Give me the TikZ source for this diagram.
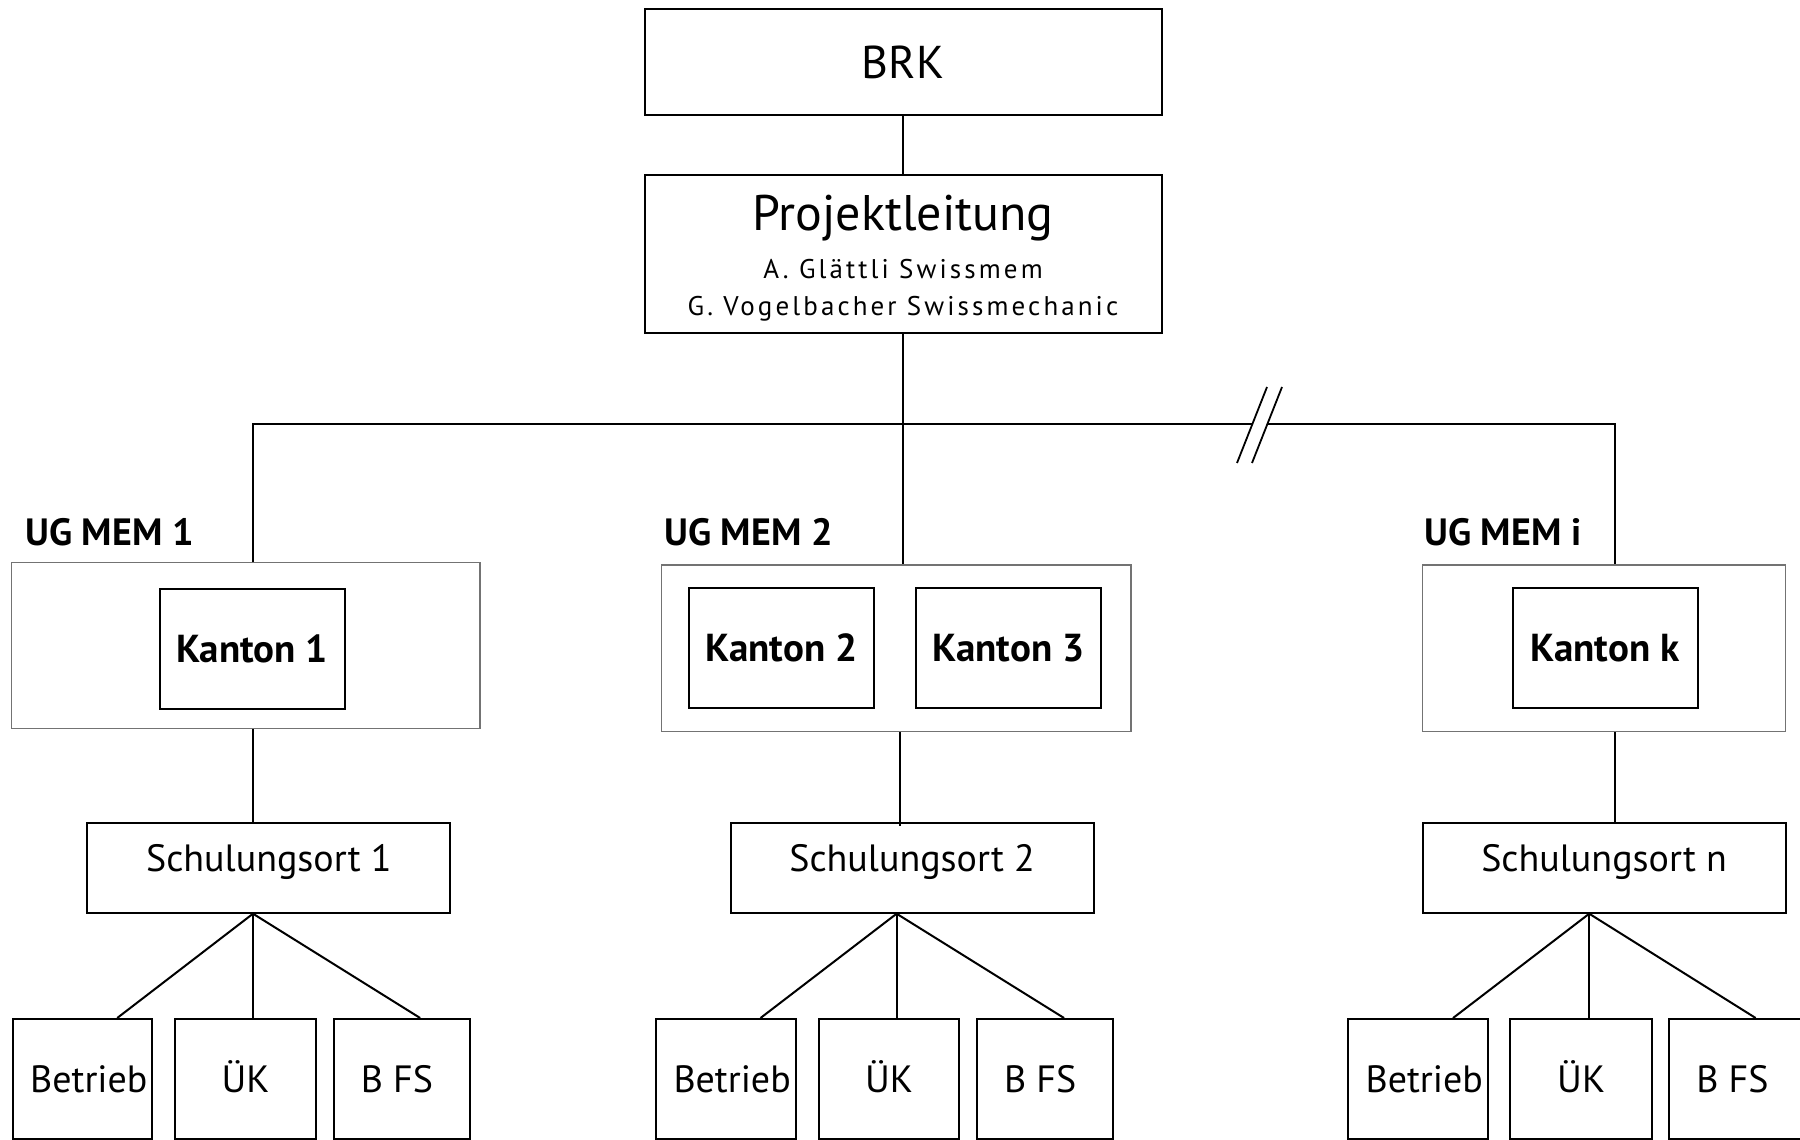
\documentclass[tikz,border=0pt]{standalone}
\usepackage{fontspec}
\setmainfont{PT Sans}
\usetikzlibrary{calc}
\tikzset{
  conn/.style={line width=2pt, black},
  bbox/.style={draw=black, line width=2pt, inner sep=0pt, text depth=0pt},
  gbox/.style={draw=black!55, line width=1.4pt, inner sep=0pt},
  kbox/.style={draw=black, line width=1.8pt, inner sep=0pt, minimum width=185pt, minimum height=120pt,
    font=\fontsize{39}{42}\selectfont\bfseries, text height=27pt, text depth=0pt},
  sbox/.style={draw=black, line width=2pt, inner sep=0pt, minimum width=363pt, minimum height=90pt,
    font=\fontsize{38}{40}\selectfont, text height=27pt, text depth=20pt},
  leaf/.style={draw=black, line width=2pt, inner sep=0pt, minimum height=120pt,
    font=\fontsize{38}{40}\selectfont, text height=26pt, text depth=0pt},
  uglabel/.style={anchor=base west, inner sep=0pt, font=\fontsize{38}{40}\selectfont\bfseries},
  names/.style={anchor=base, inner sep=0pt, font=\fontsize{27}{30}\selectfont\addfontfeatures{LetterSpace=11.5}},
}
\begin{document}
\begin{tikzpicture}[x=1pt,y=-1pt]
\useasboundingbox (0,0) rectangle (1800,1140);
\clip (0,0) rectangle (1800,1140);

% top
\node[bbox, minimum width=517pt, minimum height=106pt, font=\fontsize{46}{50}\selectfont, text height=32pt] (brk) at (903,62) {BRK};
\node[bbox, minimum width=517pt, minimum height=158pt] (pj) at (903,254) {};
\node[anchor=base, inner sep=0pt, font=\fontsize{50}{52}\selectfont] (pjt) at (903,230) {Projektleitung};
\node[names] (pja) at (903,278) {A. Glättli Swissmem};
\node[names] (pjg) at (903,315) {G. Vogelbacher Swissmechanic};

% UG boxes
\node[gbox, minimum width=468.5pt, minimum height=166pt] (ug1) at (245.75,645.7) {};
\node[gbox, minimum width=469.6pt, minimum height=166.3pt] (ug2) at (896,648.2) {};
\node[gbox, minimum width=362.8pt, minimum height=166.3pt] (ugi) at (1604.1,648.2) {};
\node[uglabel] (l1) at (25,545) {UG MEM 1};
\node[uglabel] (l2) at (664,545) {UG MEM 2};
\node[uglabel] (li) at (1424,545) {UG MEM i};

\node[kbox] (k1) at (252.2,648.7) {Kanton 1};
\node[kbox] (k2) at (781.4,647.7) {Kanton 2};
\node[kbox] (k3) at (1008.4,647.7) {Kanton 3};
\node[kbox] (kk) at (1605.1,647.7) {Kanton k};

% Schulungsorte
\node[sbox] (s1) at (268.9,867.7) {Schulungsort 1};
\node[sbox] (s2) at (912.1,867.7) {Schulungsort 2};
\node[sbox] (sn) at (1604.1,867.7) {Schulungsort n};

% leaves
\node[leaf, minimum width=139.7pt, text width=130pt, align=right] (b1) at (82.5,1079) {Betrieb};
\node[leaf, minimum width=140.8pt] (u1) at (245.7,1079) {ÜK};
\node[leaf, minimum width=136.3pt] (f1) at (401.9,1079) {\hspace*{-10pt}B FS};
\node[leaf, minimum width=139.7pt, text width=130pt, align=right] (b2) at (725.8,1079) {Betrieb};
\node[leaf, minimum width=140.9pt] (u2) at (889,1079) {ÜK};
\node[leaf, minimum width=136.2pt] (f2) at (1045.1,1079) {\hspace*{-10pt}B FS};
\node[leaf, minimum width=139.8pt, text width=130pt, align=right] (bn) at (1417.9,1079) {Betrieb};
\node[leaf, minimum width=141.6pt] (un) at (1581.2,1079) {ÜK};
\node[leaf, minimum width=136.2pt] (fn) at (1737.4,1079) {\hspace*{-10pt}B FS};

% helper coordinates
\coordinate (c1) at (253,424);
\coordinate (ci) at (1615,424);
\coordinate (bk1) at (1252,424);
\coordinate (bk2) at (1268,424);
\coordinate (d2) at (900.4,0);
\coordinate (fp1) at (253,0);
\coordinate (fp2) at (896.6,0);
\coordinate (fpn) at (1589.2,0);

% connectors top
\draw[conn] (brk.south) -- (pj.north);
\draw[conn] (pj.south) -- (pj.south |- ug2.north);
\draw[conn] (ug1.north -| c1) -- (c1) -- (bk1);
\draw[conn] (bk2) -- (ci) -- (ci |- ugi.north);
% break marks
\draw[line width=1.8pt] (1237,463) -- (1267,387);
\draw[line width=1.8pt] (1252,463) -- (1282,387);

% UG to Schulungsort
\draw[conn] (ug1.south -| c1) -- (s1.north -| c1);
\draw[conn] (ug2.south -| d2) -- ($(s2.north -| d2)+(0,4)$);
\draw[conn] (ugi.south -| ci) -- (sn.north -| ci);

% fans
\draw[conn] (s1.south -| fp1) -- ($(b1.north west)!0.745!(b1.north east)$);
\draw[conn] (s1.south -| fp1) -- (u1.north -| fp1);
\draw[conn] (s1.south -| fp1) -- ($(f1.north west)!0.632!(f1.north east)$);
\draw[conn] (s2.south -| fp2) -- ($(b2.north west)!0.745!(b2.north east)$);
\draw[conn] (s2.south -| fp2) -- (u2.north -| fp2);
\draw[conn] (s2.south -| fp2) -- ($(f2.north west)!0.637!(f2.north east)$);
\draw[conn] (sn.south -| fpn) -- ($(bn.north west)!0.748!(bn.north east)$);
\draw[conn] (sn.south -| fpn) -- (un.north -| fpn);
\draw[conn] (sn.south -| fpn) -- ($(fn.north west)!0.632!(fn.north east)$);
\end{tikzpicture}
\end{document}
